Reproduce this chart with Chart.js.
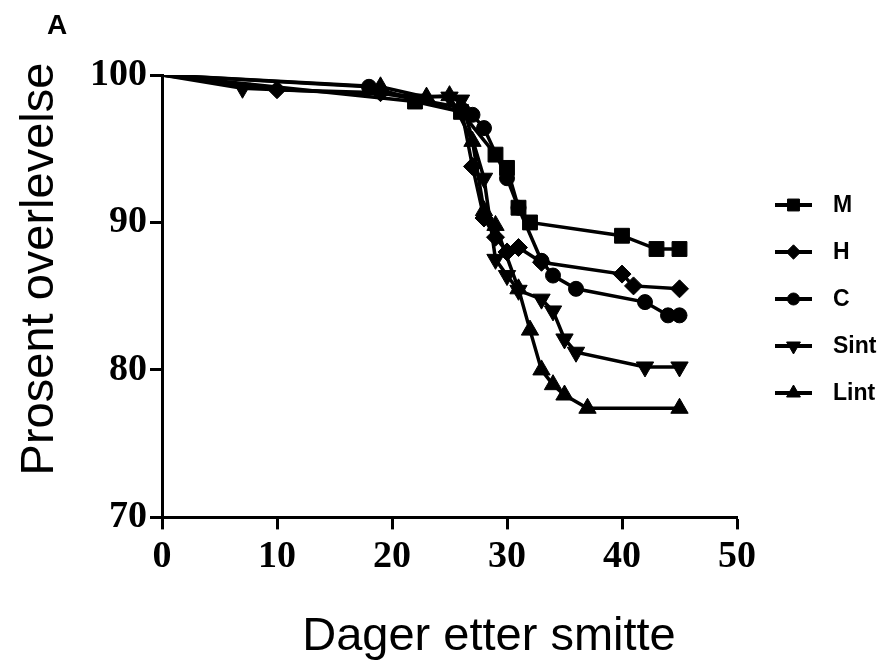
<!DOCTYPE html>
<html>
<head>
<meta charset="utf-8">
<script src="https://cdn.jsdelivr.net/npm/chart.js@4.4.1/dist/chart.umd.min.js"></script>
<style>
  html, body { margin: 0; padding: 0; background: #fff; }
  #wrap { width: 882px; height: 660px; }
</style>
</head>
<body>
<div id="wrap"><canvas id="survivalChart" width="882" height="660"></canvas></div>
<script>
// axis ticks
const xTicks = [0, 10, 20, 30, 40, 50];
const yTicks = [70, 80, 90, 100];

// group names (legend order)
const groupNames = ['M', 'H', 'C', 'Sint', 'Lint'];

// days after infection / percent survival
const mDays = [0, 22, 26, 29, 30, 31, 32, 40, 43, 45];
const mVals = [100, 98.2, 97.5, 94.6, 93.7, 91.0, 90.0, 89.1, 88.2, 88.2];

const hDays = [0, 10, 19, 26, 27, 28, 29, 30, 31, 33, 40, 41, 45];
const hVals = [100, 99.0, 98.8, 97.8, 93.8, 90.3, 89.0, 88.0, 88.3, 87.3, 86.5, 85.7, 85.5];

const cDays = [0, 18, 27, 28, 30, 31, 33, 34, 36, 42, 44, 45];
const cVals = [100, 99.2, 97.3, 96.4, 93.0, 91.0, 87.4, 86.4, 85.5, 84.6, 83.7, 83.7];

const sDays = [0, 7, 25, 26, 28, 29, 30, 31, 33, 34, 35, 36, 42, 45];
const sVals = [100, 99.1, 98.5, 98.3, 93.0, 87.5, 86.4, 85.4, 84.8, 84.0, 82.1, 81.2, 80.2, 80.2];

const lDays = [0, 19, 23, 25, 27, 28, 29, 31, 32, 33, 34, 35, 37, 45];
const lVals = [100, 99.2, 98.5, 98.6, 95.5, 90.8, 89.8, 85.5, 82.7, 80.0, 79.0, 78.3, 77.4, 77.4];

const xTitle = 'Dager etter smitte';
const yTitle = 'Prosent overlevelse';

const toPoints = (days, vals) => days.map((d, i) => ({ x: d, y: vals[i] }));

// marker look per group
const markerStyle = ['rect', 'rectRot', 'circle', 'triangle', 'triangle'];
const markerRotation = [0, 0, 0, 180, 0];
const markerRadius = [10.5, 9, 7.5, 10, 10];

const seriesPoints = [
    toPoints(mDays, mVals),
    toPoints(hDays, hVals),
    toPoints(cDays, cVals),
    toPoints(sDays, sVals),
    toPoints(lDays, lVals)
];

const datasets = groupNames.map((name, i) => ({
    label: name,
    data: seriesPoints[i],
    borderColor: '#000',
    backgroundColor: '#000',
    borderWidth: 3.5,
    tension: 0,
    pointStyle: markerStyle[i],
    rotation: markerRotation[i],
    pointRadius: ctx => ctx.dataIndex === 0 ? 0 : markerRadius[i],
    pointBackgroundColor: '#000',
    pointBorderColor: '#000',
    pointBorderWidth: 1
}));

// legend at the right of the plot (line + marker + name), axis titles and panel letter
const sideLegend = {
    id: 'sideLegend',
    afterDraw(chart) {
        const { ctx, chartArea } = chart;
        ctx.save();
        ctx.fillStyle = '#000';
        ctx.strokeStyle = '#000';
        groupNames.forEach((name, i) => {
            const y = chartArea.top + 130 + i * 47;
            const x0 = chartArea.right + 38;
            const x1 = chartArea.right + 75;
            ctx.lineWidth = 4;
            ctx.beginPath();
            ctx.moveTo(x0, y);
            ctx.lineTo(x1, y);
            ctx.stroke();
            ctx.lineWidth = 1;
            Chart.helpers.drawPoint(ctx, {
                pointStyle: markerStyle[i],
                rotation: markerRotation[i],
                radius: markerRadius[i] * 0.8,
                borderWidth: 1
            }, (x0 + x1) / 2, y);
            ctx.font = 'bold 23px "Liberation Sans", Arial, sans-serif';
            ctx.textAlign = 'left';
            ctx.textBaseline = 'middle';
            ctx.fillText(name, chartArea.right + 96, y + 1);
        });

        // axis titles
        ctx.font = '47px "Liberation Sans", Arial, sans-serif';
        ctx.textAlign = 'center';
        ctx.textBaseline = 'alphabetic';
        ctx.fillText(xTitle, chartArea.left + 327, chartArea.bottom + 133);
        ctx.save();
        ctx.translate(chartArea.left - 109, chartArea.top + 194);
        ctx.rotate(-Math.PI / 2);
        ctx.fillText(yTitle, 0, 0);
        ctx.restore();

        // panel letter
        ctx.font = 'bold 28px "Liberation Sans", sans-serif';
        ctx.textAlign = 'left';
        ctx.fillText('A', 47, 34);
        ctx.restore();
    }
};

const tickFont = { family: '"Liberation Serif", "Times New Roman", serif', weight: 'bold', size: 38 };

new Chart(document.getElementById('survivalChart'), {
    type: 'line',
    data: { datasets: datasets },
    options: {
        responsive: false,
        animation: false,
        devicePixelRatio: 1,
        layout: { padding: { left: 87, right: 145, top: 75, bottom: 75 } },
        plugins: {
            legend: { display: false },
            tooltip: { enabled: false }
        },
        scales: {
            x: {
                type: 'linear',
                min: 0,
                max: 50,
                afterBuildTicks: axis => { axis.ticks = xTicks.map(v => ({ value: v })); },
                grid: { drawOnChartArea: false, drawTicks: true, tickLength: 12, tickWidth: 3, tickColor: '#000' },
                border: { display: true, color: '#000', width: 3 },
                ticks: { color: '#000', font: tickFont, padding: 5, maxRotation: 0 }
            },
            y: {
                type: 'linear',
                min: 70,
                max: 100,
                afterBuildTicks: axis => { axis.ticks = yTicks.map(v => ({ value: v })); },
                grid: { drawOnChartArea: false, drawTicks: true, tickLength: 12, tickWidth: 3, tickColor: '#000' },
                border: { display: true, color: '#000', width: 3 },
                ticks: { color: '#000', font: tickFont, padding: 3 }
            }
        }
    },
    plugins: [sideLegend]
});
</script>
</body>
</html>
